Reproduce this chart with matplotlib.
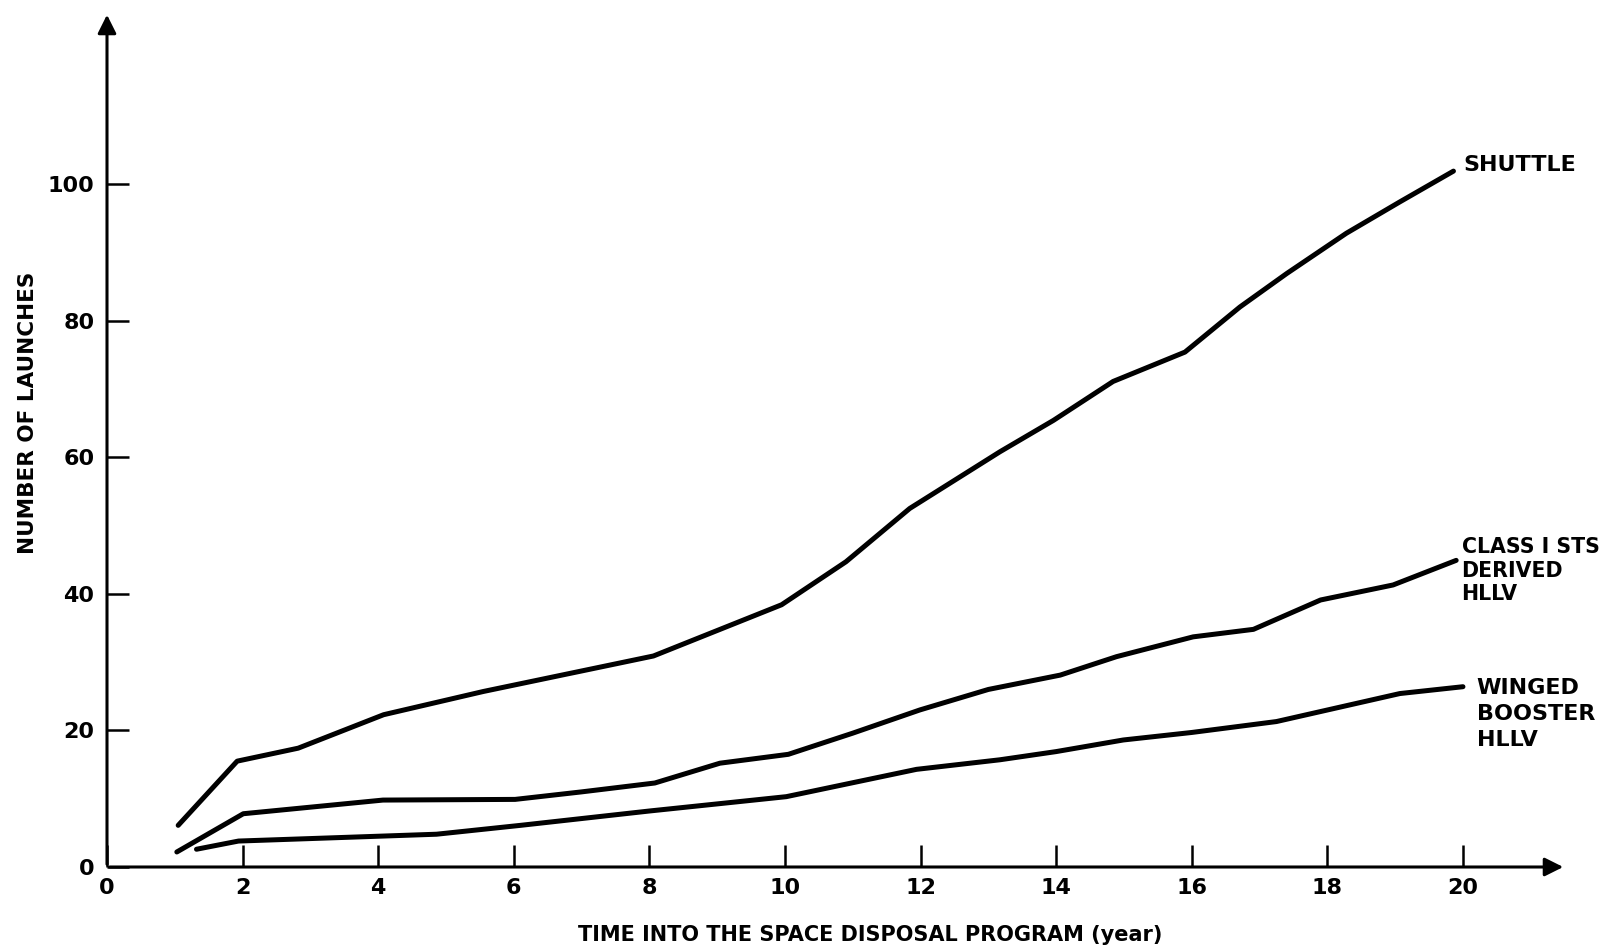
import matplotlib
matplotlib.use("Agg")
import matplotlib.pyplot as plt

# values
shuttle_x = [1.05, 1.92, 2.82, 4.08, 5.55, 8.06, 9.95, 10.9, 11.84, 13.17,
             13.96, 14.84, 15.9, 16.71, 17.4, 18.28, 19.07, 19.86]
shuttle_y = [6.1, 15.5, 17.4, 22.3, 25.7, 30.9, 38.4, 44.7, 52.5, 60.8,
             65.4, 71.1, 75.4, 82.0, 86.9, 92.8, 97.4, 101.9]

class1_x = [1.03, 2.01, 4.07, 6.02, 7.0, 8.08, 9.04, 10.05, 11.0, 11.99,
            13.0, 14.06, 14.89, 16.02, 16.91, 17.9, 18.97, 19.9]
class1_y = [2.2, 7.8, 9.8, 9.9, 11.0, 12.3, 15.2, 16.5, 19.6, 23.0,
            26.0, 28.1, 30.8, 33.7, 34.8, 39.1, 41.3, 44.9]

winged_x = [1.32, 1.94, 4.86, 6.1, 8.0, 10.02, 11.94, 13.17, 14.0, 14.99,
            16.0, 17.25, 19.07, 20.0]
winged_y = [2.6, 3.8, 4.8, 6.1, 8.2, 10.3, 14.3, 15.7, 16.9, 18.6,
            19.7, 21.3, 25.4, 26.4]

x_ticks = list(range(0, 21, 2))
y_ticks = list(range(0, 101, 20))

plt.rcParams["font.family"] = ["DejaVu Sans"]
plt.rcParams["font.weight"] = "bold"

fig = plt.figure(figsize=(16.05, 9.48), dpi=100)
ax = fig.add_axes([107 / 1605, 81 / 948, 1459 / 1605, 855 / 948])
ax.set_xlim(0, 21.52)
ax.set_ylim(0, 125.2)

for s in ax.spines.values():
    s.set_visible(False)

# axes drawn as arrows
arrow = dict(arrowstyle="-|>", lw=2.2, color="black", mutation_scale=28)
ax.annotate("", xy=(21.52, 0), xytext=(0, 0), arrowprops=arrow, annotation_clip=False)
ax.annotate("", xy=(0, 125.2), xytext=(0, 0), arrowprops=arrow, annotation_clip=False)

line_kw = dict(color="black", lw=3.6, solid_capstyle="round", solid_joinstyle="round")
ax.plot(shuttle_x, shuttle_y, **line_kw)
ax.plot(class1_x, class1_y, **line_kw)
ax.plot(winged_x, winged_y, **line_kw)

ax.set_xticks(x_ticks)
ax.set_xticklabels([str(v) for v in x_ticks])
ax.set_yticks(y_ticks)
ax.set_yticklabels([str(v) for v in y_ticks])
ax.tick_params(axis="x", direction="in", length=16, width=1.8, pad=8, labelsize=16)
ax.tick_params(axis="y", direction="in", length=16, width=1.8, pad=9, labelsize=16)

# axis titles placed in figure pixels
fig.text(870 / 1605, 1 - 935 / 948, "TIME INTO THE SPACE DISPOSAL PROGRAM (year)",
         fontsize=15, fontweight="bold", ha="center", va="center")
fig.text(28 / 1605, 1 - 413 / 948, "NUMBER OF LAUNCHES", fontsize=15.5,
         fontweight="bold", ha="center", va="center", rotation=90)

ax.text(20.0, 102.8, "SHUTTLE", fontsize=16, fontweight="bold", ha="left", va="center")
ax.text(19.98, 43.4, "CLASS I STS\nDERIVED\nHLLV", fontsize=14.8, fontweight="bold",
        ha="left", va="center", linespacing=1.2)
ax.text(20.2, 22.4, "WINGED\nBOOSTER\nHLLV", fontsize=16, fontweight="bold",
        ha="left", va="center", linespacing=1.38)

fig.savefig("out.png", dpi=100)
